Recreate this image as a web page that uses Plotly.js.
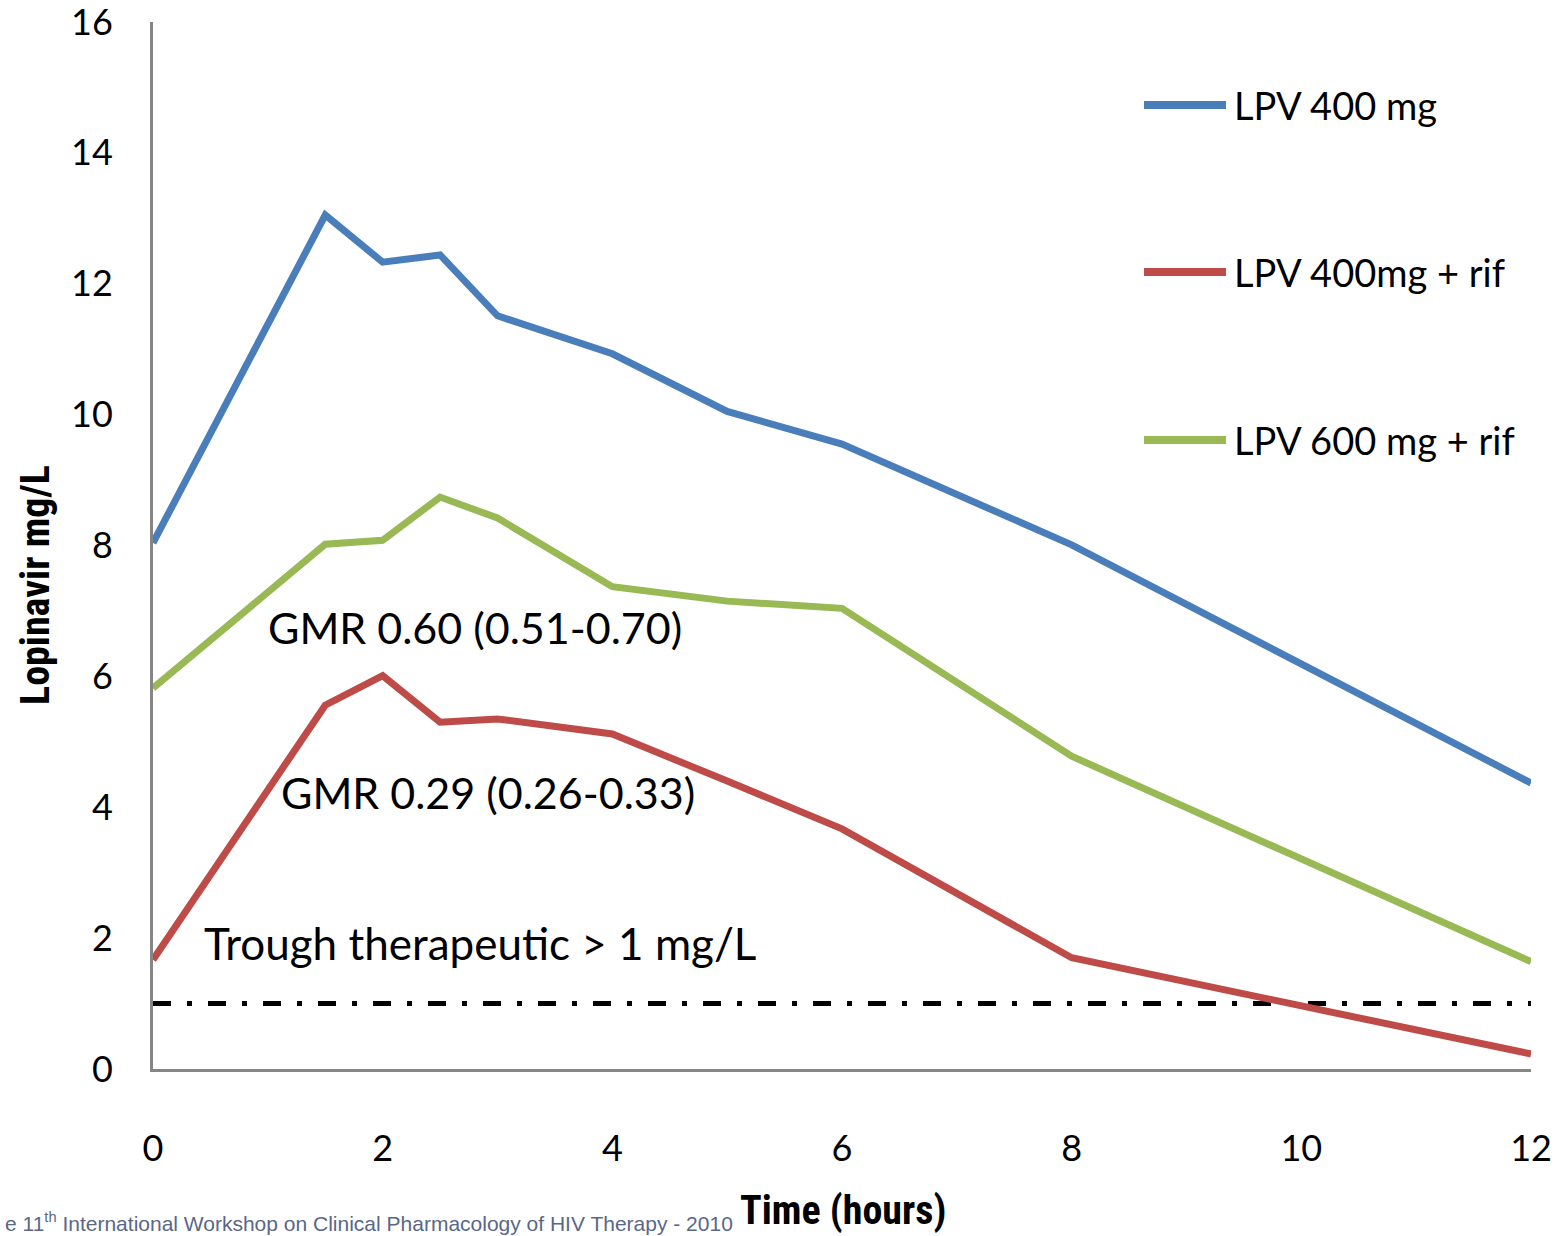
<!DOCTYPE html>
<html>
<head>
<meta charset="utf-8">
<script src="https://cdn.plot.ly/plotly-3.0.1.min.js"></script>
<style>html,body{margin:0;padding:0;background:#fff;}#chart{width:1563px;height:1236px;}</style>
</head>
<body>
<div id="chart"></div>
<script>
const timeHours = [0, 1.5, 2, 2.5, 3, 4, 5, 6, 8, 12];
const lpv400 = [8.04, 13.05, 12.33, 12.44, 11.51, 10.93, 10.05, 9.55, 8.01, 4.37];
const lpv400Rif = [1.67, 5.56, 6.01, 5.30, 5.35, 5.12, 4.40, 3.67, 1.70, 0.23];
const lpv600Rif = [5.82, 8.02, 8.08, 8.74, 8.42, 7.37, 7.15, 7.04, 4.78, 1.64];
const seriesNames = ["LPV 400 mg", "LPV 400mg + rif", "LPV 600 mg + rif"];
const troughX = [0, 12];
const troughY = [1, 1];
const xTicks = [0, 2, 4, 6, 8, 10, 12];
const yTicks = [0, 2, 4, 6, 8, 10, 12, 14, 16];

const colors = ["#4a7ebb", "#be4b48", "#98b954"];
const font = "Lato, 'Open Sans', sans-serif";
const boldFont = "'Liberation Sans Narrow', 'Roboto Condensed', Roboto, sans-serif";

const traces = [
  {x: troughX, y: troughY, mode: "lines", line: {color: "#000", width: 5, dash: "18px,16px,5px,16px"}, showlegend: false, hoverinfo: "skip"},
  {x: timeHours, y: lpv400, name: seriesNames[0], mode: "lines", line: {color: colors[0], width: 7}},
  {x: timeHours, y: lpv400Rif, name: seriesNames[1], mode: "lines", line: {color: colors[1], width: 7}},
  {x: timeHours, y: lpv600Rif, name: seriesNames[2], mode: "lines", line: {color: colors[2], width: 7}}
];

const legY = [0.9207, 0.7612, 0.6008];
const shapes = [];
const annotations = [];
seriesNames.forEach((n, i) => {
  shapes.push({type: "line", xref: "paper", yref: "paper", x0: (1144 - 153) / 1378, x1: (1226 - 153) / 1378, y0: legY[i], y1: legY[i],
    line: {color: colors[i], width: 8}});
  annotations.push({xref: "paper", yref: "paper", x: (1232 - 153) / 1378, y: legY[i], xanchor: "left", yanchor: "middle",
    text: n, showarrow: false, font: {family: font, size: 38, color: "#000"}});
});

annotations.push(
  {xref: "x", yref: "y", x: 0.98, y: 6.74, xanchor: "left", yanchor: "middle", text: "GMR 0.60 (0.51-0.70)", showarrow: false, font: {family: font, size: 43, color: "#000"}},
  {xref: "x", yref: "y", x: 1.1, y: 4.22, xanchor: "left", yanchor: "middle", text: "GMR 0.29 (0.26-0.33)", showarrow: false, font: {family: font, size: 43, color: "#000"}},
  {xref: "x", yref: "y", x: 0.43, y: 1.93, xanchor: "left", yanchor: "middle", text: "Trough therapeutic > 1 mg/L", showarrow: false, font: {family: font, size: 44, color: "#000"}},
  {xref: "paper", yref: "paper", x: (843 - 153) / 1378, y: -(1210 - 1069) / 1047, xanchor: "center", yanchor: "middle", text: "<b>Time (hours)</b>", showarrow: false, font: {family: boldFont, size: 40, color: "#000"}},
  {xref: "paper", yref: "paper", x: (35 - 153) / 1378, y: (1069 - 585) / 1047, xanchor: "center", yanchor: "middle", textangle: -90, text: "<b>Lopinavir mg/L</b>", showarrow: false, font: {family: boldFont, size: 40, color: "#000"}},
  {xref: "paper", yref: "paper", x: (735 - 153) / 1378, y: -(1222 - 1069) / 1047, xanchor: "right", yanchor: "middle", text: "e 11<sup>th</sup> International Workshop on Clinical Pharmacology of HIV Therapy - 2010", showarrow: false, font: {family: "'Liberation Sans', Arial, sans-serif", size: 21, color: "#5a6788"}}
);

const layout = {
  width: 1563, height: 1236,
  margin: {l: 153, r: 32, t: 22, b: 167, pad: 0},
  paper_bgcolor: "#fff", plot_bgcolor: "#fff",
  showlegend: false,
  xaxis: {range: [0, 12], tickvals: xTicks, ticktext: xTicks.map(String), showgrid: false, zeroline: false,
    showline: true, linecolor: "#868686", linewidth: 3, ticks: "", ticklabelstandoff: 46, ticklabeloverflow: "allow",
    tickfont: {family: font, size: 36, color: "#000"}},
  yaxis: {range: [0, 16], tickvals: yTicks, ticktext: yTicks.map(String), showgrid: false, zeroline: false,
    showline: true, linecolor: "#868686", linewidth: 3, ticks: "", ticklabelstandoff: 30, ticklabeloverflow: "allow",
    tickfont: {family: font, size: 36, color: "#000"}},
  shapes: shapes,
  annotations: annotations
};

Plotly.newPlot("chart", traces, layout, {displayModeBar: false, staticPlot: true});
</script>
</body>
</html>
